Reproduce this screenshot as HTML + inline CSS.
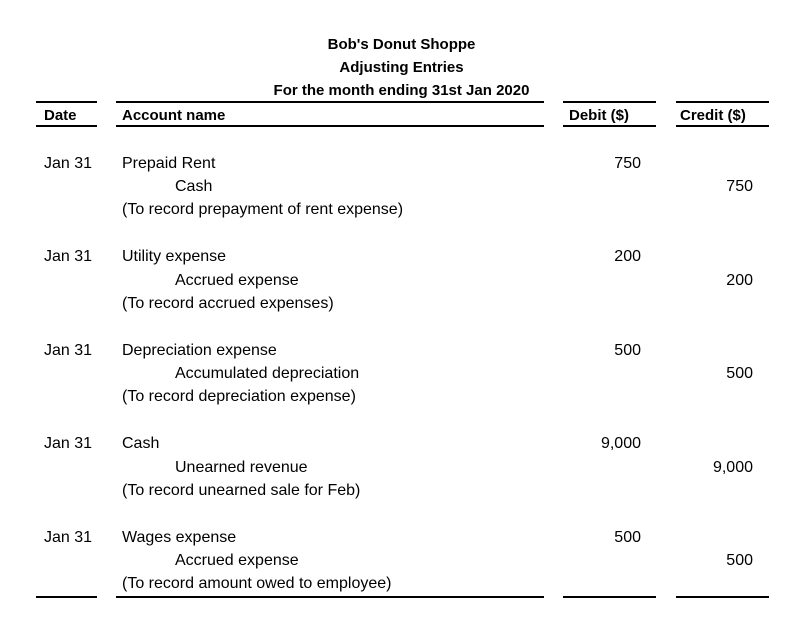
<!DOCTYPE html>
<html><head><meta charset="utf-8"><style>
html,body{margin:0;padding:0;background:#fff;}
body{width:810px;height:641px;position:relative;overflow:hidden;font-family:"Liberation Sans",sans-serif;color:#000;}
.t{position:absolute;white-space:nowrap;font-size:16px;line-height:20px;}
.b{font-weight:bold;font-size:15px;}
.c{left:0;width:803px;text-align:center;}
.r{text-align:right;}
.ln{position:absolute;height:2px;background:#000;}
</style></head><body>
<div class="t b c" style="top:35px">Bob's Donut Shoppe</div>
<div class="t b c" style="top:58px">Adjusting Entries</div>
<div class="t b c" style="top:81px">For the month ending 31st Jan 2020</div>

<div class="ln" style="left:36px;width:61px;top:101px"></div>
<div class="ln" style="left:116px;width:428px;top:101px"></div>
<div class="ln" style="left:563px;width:93px;top:101px"></div>
<div class="ln" style="left:676px;width:93px;top:101px"></div>

<div class="t b" style="left:44px;top:106px">Date</div>
<div class="t b" style="left:122px;top:106px">Account name</div>
<div class="t b" style="left:569px;top:106px">Debit ($)</div>
<div class="t b" style="left:680px;top:106px">Credit ($)</div>

<div class="ln" style="left:36px;width:61px;top:125px"></div>
<div class="ln" style="left:116px;width:428px;top:125px"></div>
<div class="ln" style="left:563px;width:93px;top:125px"></div>
<div class="ln" style="left:676px;width:93px;top:125px"></div>

<!-- entry 1 -->
<div class="t" style="left:44px;top:154px">Jan 31</div>
<div class="t" style="left:122px;top:154px">Prepaid Rent</div>
<div class="t r" style="right:169px;top:154px">750</div>
<div class="t" style="left:175px;top:177px">Cash</div>
<div class="t r" style="right:57px;top:177px">750</div>
<div class="t" style="left:122px;top:200px">(To record prepayment of rent expense)</div>

<!-- entry 2 -->
<div class="t" style="left:44px;top:247px">Jan 31</div>
<div class="t" style="left:122px;top:247px">Utility expense</div>
<div class="t r" style="right:169px;top:247px">200</div>
<div class="t" style="left:175px;top:271px">Accrued expense</div>
<div class="t r" style="right:57px;top:271px">200</div>
<div class="t" style="left:122px;top:294px">(To record accrued expenses)</div>

<!-- entry 3 -->
<div class="t" style="left:44px;top:341px">Jan 31</div>
<div class="t" style="left:122px;top:341px">Depreciation expense</div>
<div class="t r" style="right:169px;top:341px">500</div>
<div class="t" style="left:175px;top:364px">Accumulated depreciation</div>
<div class="t r" style="right:57px;top:364px">500</div>
<div class="t" style="left:122px;top:387px">(To record depreciation expense)</div>

<!-- entry 4 -->
<div class="t" style="left:44px;top:434px">Jan 31</div>
<div class="t" style="left:122px;top:434px">Cash</div>
<div class="t r" style="right:169px;top:434px">9,000</div>
<div class="t" style="left:175px;top:458px">Unearned revenue</div>
<div class="t r" style="right:57px;top:458px">9,000</div>
<div class="t" style="left:122px;top:481px">(To record unearned sale for Feb)</div>

<!-- entry 5 -->
<div class="t" style="left:44px;top:528px">Jan 31</div>
<div class="t" style="left:122px;top:528px">Wages expense</div>
<div class="t r" style="right:169px;top:528px">500</div>
<div class="t" style="left:175px;top:551px">Accrued expense</div>
<div class="t r" style="right:57px;top:551px">500</div>
<div class="t" style="left:122px;top:574px">(To record amount owed to employee)</div>

<div class="ln" style="left:36px;width:61px;top:596px"></div>
<div class="ln" style="left:116px;width:428px;top:596px"></div>
<div class="ln" style="left:563px;width:93px;top:596px"></div>
<div class="ln" style="left:676px;width:93px;top:596px"></div>
</body></html>
